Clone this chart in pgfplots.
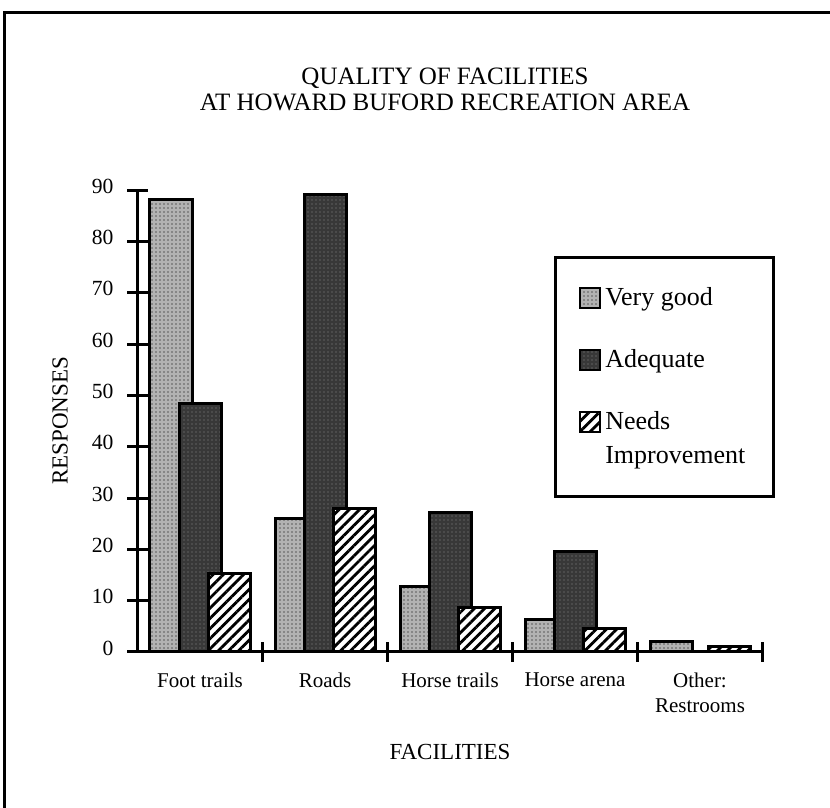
\documentclass[border=0pt]{standalone}
\usepackage{pgfplots}
\pgfplotsset{compat=1.18}
\usepackage{fontspec}
\setmainfont{Liberation Serif}
\usetikzlibrary{patterns.meta}
\pgfplotsset{raisedimage/.style={legend image code/.code={\draw[##1, line width=1pt] (0pt,3.5pt) rectangle (10pt,13.5pt);}}}
\begin{document}
\begin{tikzpicture}
\begin{axis}[
  at={(0,0)}, anchor=south west,
  scale only axis,
  width=312.5pt, height=231pt,
  xmin=-0.5, xmax=4.5, ymin=0, ymax=90,
  axis lines=left,
  axis line style={line width=1.5pt, -},
  ybar, bar width=21pt,
  xtick={0,1,2,3,4},
  xticklabels={Foot trails, Roads, Horse trails, Horse arena, {Other:\\Restrooms}},
  major x tick style={draw=none},
  minor xtick={0.5,1.5,2.5,3.5,4.5},
  minor x tick style={line width=1.5pt, black},
  minor tick length=10pt,
  ytick={0,10,...,90},
  major tick length=10pt,
  y tick style={line width=1.5pt, black},
  tick align=center,
  /pgf/number format/assume math mode=true,
  yticklabel style={font=\fontsize{10.8}{12}\selectfont, xshift=-3.5pt, yshift=2pt},
  xticklabel style={font=\fontsize{10.5}{12.5}\selectfont, align=center, yshift=-2pt},
  xlabel={FACILITIES},
  xlabel style={font=\fontsize{11.5}{13}\selectfont, at={(axis description cs:0.5,0)}, anchor=center, yshift=-50pt},
  ylabel={RESPONSES},
  ylabel style={font=\fontsize{11.5}{13}\selectfont, at={(axis description cs:-0.124,0.5)}, anchor=center},
  title={QUALITY OF FACILITIES\\AT HOWARD BUFORD RECREATION AREA},
  title style={font=\fontsize{12.5}{13}\selectfont, align=center, at={(axis description cs:0.492,1)}, anchor=center, yshift=44.5pt},
  legend style={at={(rel axis cs:0.666,0.857)}, anchor=north west, draw=black, line width=1.5pt,
    inner xsep=12pt, inner ysep=13pt, row sep=16.5pt,
    font=\fontsize{13}{17}\selectfont, cells={anchor=west, align=left}},
  legend image code/.code={\draw[#1, line width=1pt] (0pt,-5pt) rectangle (10pt,5pt);},
]
\addplot[bar shift=-14.5pt, draw=black, line width=1.5pt, fill=black!30,
  postaction={pattern={Dots[distance=2pt, radius=0.45pt]}, pattern color=black!65}]
  coordinates {(0,88.1) (1,26.1) (2,12.7) (3,6.4) (4,2.1)};
\addlegendentry{Very good}
\addplot[bar shift=0pt, draw=black, line width=1.5pt, fill=black!78,
  postaction={pattern={Dots[distance=2pt, radius=0.35pt]}, pattern color=black!45}]
  coordinates {(0,48.5) (1,89.1) (2,27.1) (3,19.5) (4,0)};
\addlegendentry{Adequate}
\addplot[bar shift=14.5pt, draw=black, line width=1.5pt, fill=white,
  postaction={pattern={Lines[angle=45, distance=3.6pt, line width=1.4pt]}},
  raisedimage]
  coordinates {(0,15.2) (1,27.9) (2,8.6) (3,4.5) (4,1.0)};
\addlegendentry{Needs\\Improvement}
\end{axis}
\pgfresetboundingbox
\path[use as bounding box] (-68.75pt,-78pt) rectangle (346.25pt,326pt);
\draw[line width=1.5pt] (-66.25pt,-78pt) -- (-66.25pt,319.5pt) -- (346.25pt,319.5pt);
\end{tikzpicture}
\end{document}
